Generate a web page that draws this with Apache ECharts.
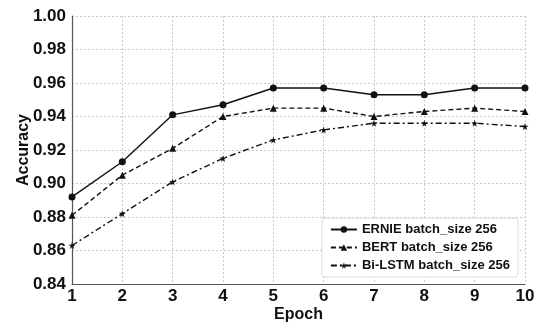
<!DOCTYPE html>
<html><head><meta charset="utf-8">
<script src="https://cdn.jsdelivr.net/npm/echarts@6/dist/echarts.min.js"></script>
<style>html,body{margin:0;padding:0;background:#fff}#c{width:550px;height:331px}</style>
</head><body><div id="c"></div>
<script>
const epochs = ['1','2','3','4','5','6','7','8','9','10'];
const ernie = [0.892,0.913,0.941,0.947,0.957,0.957,0.953,0.953,0.957,0.957];
const bert = [0.881,0.905,0.921,0.940,0.945,0.945,0.940,0.943,0.945,0.943];
const bilstm = [0.863,0.882,0.901,0.915,0.926,0.932,0.936,0.936,0.936,0.934];
const names = ['ERNIE batch_size 256','BERT batch_size 256','Bi-LSTM batch_size 256'];

const chart = echarts.init(document.getElementById('c'));
const font = 'Liberation Sans, Arial, sans-serif';
function ser(name, data, symbol, size, type){
  return {name, type:'line', data, symbol, symbolSize:size,
    lineStyle:{color:'#111', width:1.4, type},
    itemStyle:{color:'#111'}};
}
chart.setOption({
  animation:false,
  grid:{left:72, right:25, top:16, bottom:47, containLabel:false, outerBoundsMode:'none'},
  xAxis:{type:'category', data:epochs, boundaryGap:false,
    name:'Epoch', nameLocation:'middle', nameGap:23, nameMoveOverlap:false,
    nameTextStyle:{fontFamily:font, fontWeight:'bold', fontSize:16, color:'#111'},
    axisLine:{lineStyle:{color:'#555', width:1.2}},
    axisTick:{show:false},
    axisLabel:{fontFamily:font, fontWeight:'bold', fontSize:17, color:'#111', margin:4},
    splitLine:{show:true, lineStyle:{color:'#c8c8c8', type:[2,2]}}},
  yAxis:{type:'value', min:0.84, max:1.0, interval:0.02,
    name:'Accuracy', nameLocation:'middle', nameGap:40, nameMoveOverlap:false,
    nameTextStyle:{fontFamily:font, fontWeight:'bold', fontSize:16, color:'#111'},
    axisLine:{show:true, lineStyle:{color:'#555', width:1.2}},
    axisTick:{show:false},
    axisLabel:{fontFamily:font, fontWeight:'bold', fontSize:17, color:'#111', margin:6,
      formatter:v=>v.toFixed(2)},
    splitLine:{show:true, lineStyle:{color:'#c8c8c8', type:[2,2]}}},
  legend:{orient:'vertical', right:32, bottom:54, data:names,
    itemWidth:26, itemHeight:8, itemGap:5,
    backgroundColor:'#fff', borderColor:'#ddd', borderWidth:1, borderRadius:3,
    padding:[5,8,5,8],
    textStyle:{fontFamily:font, fontWeight:'bold', fontSize:13, color:'#111'}},
  series:[
    ser(names[0], ernie, 'circle', 7, 'solid'),
    ser(names[1], bert, 'triangle', 7, [5,3]),
    ser(names[2], bilstm, 'path://M50,0 L61,35 L98,35 L68,57 L79,91 L50,70 L21,91 L32,57 L2,35 L39,35 Z', 7, [6,3,2,3])
  ]
});
</script></body></html>
